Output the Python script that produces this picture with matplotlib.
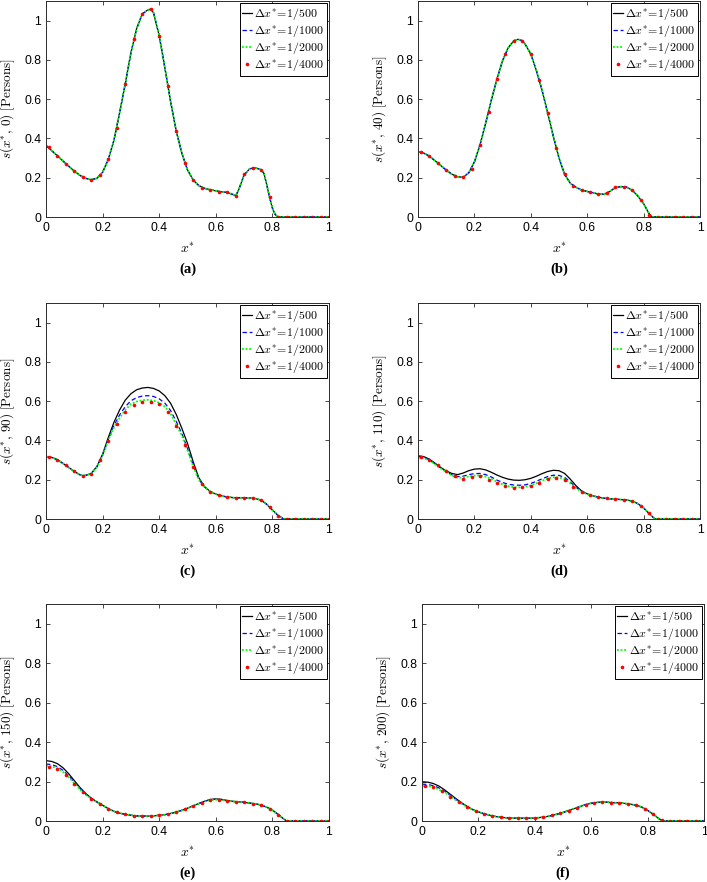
import matplotlib
matplotlib.use('Agg')
import matplotlib.pyplot as plt

plt.rcParams['mathtext.fontset'] = 'cm'
plt.rcParams['font.family'] = ['Liberation Sans', 'DejaVu Sans']

# ---------------- data ----------------
MX = [0.01, 0.04, 0.07, 0.10, 0.13, 0.16, 0.19, 0.22, 0.25, 0.28, 0.31, 0.34,
      0.37, 0.40, 0.43, 0.46, 0.49, 0.52, 0.55, 0.58, 0.61, 0.64, 0.67, 0.70,
      0.73, 0.76, 0.79, 0.82, 0.85, 0.88, 0.91, 0.94, 0.97, 1.00]

# panel (a)  t = 0
XA = [0.00, 0.02, 0.04, 0.06, 0.08, 0.10, 0.12, 0.14, 0.16, 0.18, 0.20, 0.22,
      0.24, 0.26, 0.28, 0.30, 0.32, 0.34, 0.36, 0.37, 0.38, 0.40, 0.42, 0.44,
      0.46, 0.48, 0.50, 0.52, 0.54, 0.56, 0.58, 0.60, 0.62, 0.64, 0.66, 0.67,
      0.68, 0.70, 0.72, 0.74, 0.76, 0.77, 0.78, 0.79, 0.80, 0.81, 0.82, 0.90, 1.00]
A_500 = [0.365, 0.338, 0.312, 0.285, 0.259, 0.234, 0.212, 0.197, 0.190, 0.197, 0.228, 0.293,
         0.390, 0.530, 0.678, 0.835, 0.958, 1.034, 1.055, 1.058, 1.040, 0.924, 0.760, 0.590,
         0.439, 0.325, 0.240, 0.188, 0.160, 0.146, 0.139, 0.133, 0.128, 0.125, 0.115, 0.108,
         0.135, 0.214, 0.246, 0.250, 0.241, 0.222, 0.165, 0.100, 0.045, 0.012, 0.000, 0.000, 0.000]
A_1000 = A_500
A_2000 = A_500
A_4000 = [0.354, 0.312, 0.271, 0.234, 0.203, 0.190, 0.212, 0.293, 0.454, 0.678, 0.907, 1.034,
          1.058, 0.924, 0.668, 0.439, 0.275, 0.188, 0.149, 0.139, 0.129, 0.125, 0.108, 0.217,
          0.249, 0.241, 0.100, 0.000, 0.0, 0.0, 0.0, 0.0, 0.0, 0.0]

# panel (b)  t = 40
XB = [0.00, 0.02, 0.04, 0.06, 0.08, 0.10, 0.12, 0.14, 0.16, 0.18, 0.20, 0.22,
      0.24, 0.26, 0.28, 0.30, 0.32, 0.34, 0.355, 0.37, 0.38, 0.40, 0.42, 0.44,
      0.46, 0.48, 0.50, 0.52, 0.54, 0.56, 0.58, 0.60, 0.62, 0.64, 0.66, 0.68,
      0.70, 0.72, 0.74, 0.76, 0.78, 0.80, 0.82, 0.83, 1.00]
B_500 = [0.333, 0.326, 0.310, 0.287, 0.263, 0.239, 0.218, 0.205, 0.202, 0.225, 0.280, 0.368,
         0.478, 0.595, 0.703, 0.797, 0.862, 0.898, 0.905, 0.898, 0.880, 0.830, 0.745, 0.645,
         0.529, 0.410, 0.300, 0.217, 0.172, 0.152, 0.137, 0.130, 0.124, 0.116, 0.116, 0.130,
         0.150, 0.155, 0.152, 0.136, 0.106, 0.068, 0.015, 0.000, 0.000]
B_1000 = B_500
B_2000 = B_500
B_4000 = [0.332, 0.310, 0.275, 0.239, 0.210, 0.203, 0.246, 0.368, 0.537, 0.703, 0.830, 0.898,
          0.898, 0.830, 0.698, 0.529, 0.349, 0.217, 0.159, 0.137, 0.127, 0.115, 0.120, 0.151,
          0.154, 0.136, 0.088, 0.012, 0.0, 0.0, 0.0, 0.0, 0.0, 0.0]

# panel (c)  t = 90
XC = [0.00, 0.02, 0.04, 0.06, 0.08, 0.10, 0.12, 0.13, 0.14, 0.16, 0.18, 0.20,
      0.22, 0.24, 0.26, 0.28, 0.30, 0.32, 0.34, 0.36, 0.38, 0.40, 0.42, 0.44,
      0.46, 0.48, 0.50, 0.52, 0.54, 0.56, 0.58, 0.60, 0.62, 0.64, 0.66, 0.68,
      0.70, 0.72, 0.74, 0.76, 0.78, 0.80, 0.82, 0.84, 1.00]
C_500 = [0.318, 0.314, 0.302, 0.283, 0.263, 0.242, 0.225, 0.221, 0.222, 0.232, 0.268, 0.330,
         0.415, 0.492, 0.555, 0.605, 0.638, 0.658, 0.667, 0.670, 0.665, 0.652, 0.628, 0.590,
         0.533, 0.462, 0.385, 0.292, 0.210, 0.165, 0.140, 0.127, 0.118, 0.112, 0.109, 0.108,
         0.108, 0.107, 0.104, 0.096, 0.075, 0.046, 0.018, 0.000, 0.000]
C_1000 = [0.318, 0.314, 0.302, 0.283, 0.263, 0.242, 0.225, 0.221, 0.222, 0.232, 0.266, 0.325,
          0.405, 0.475, 0.530, 0.572, 0.602, 0.618, 0.626, 0.628, 0.624, 0.612, 0.590, 0.553,
          0.497, 0.435, 0.360, 0.275, 0.202, 0.163, 0.140, 0.127, 0.118, 0.112, 0.109, 0.108,
          0.108, 0.107, 0.104, 0.096, 0.075, 0.046, 0.018, 0.000, 0.000]
C_2000 = [0.318, 0.314, 0.302, 0.283, 0.263, 0.242, 0.225, 0.221, 0.222, 0.232, 0.265, 0.322,
          0.400, 0.465, 0.515, 0.555, 0.585, 0.598, 0.605, 0.607, 0.603, 0.592, 0.572, 0.537,
          0.482, 0.425, 0.350, 0.268, 0.200, 0.163, 0.140, 0.127, 0.118, 0.112, 0.109, 0.108,
          0.108, 0.107, 0.104, 0.096, 0.075, 0.046, 0.018, 0.000, 0.000]
C_4000 = [0.315, 0.302, 0.273, 0.242, 0.220, 0.231, 0.298, 0.395, 0.486, 0.547, 0.581, 0.595,
          0.595, 0.585, 0.547, 0.473, 0.378, 0.263, 0.178, 0.139, 0.122, 0.112, 0.108, 0.108,
          0.105, 0.095, 0.059, 0.017, 0.0, 0.0, 0.0, 0.0, 0.0, 0.0]

# panel (d)  t = 110
XD = [0.00, 0.02, 0.04, 0.06, 0.08, 0.10, 0.12, 0.14, 0.16, 0.18, 0.20, 0.22,
      0.24, 0.26, 0.28, 0.30, 0.32, 0.34, 0.36, 0.38, 0.40, 0.42, 0.44, 0.46,
      0.48, 0.50, 0.52, 0.54, 0.56, 0.58, 0.60, 0.62, 0.64, 0.66, 0.68, 0.70,
      0.72, 0.74, 0.76, 0.78, 0.80, 0.82, 0.84, 1.00]
D_500 = [0.322, 0.318, 0.305, 0.285, 0.263, 0.245, 0.232, 0.226, 0.234, 0.246, 0.254, 0.256,
         0.250, 0.238, 0.224, 0.212, 0.203, 0.198, 0.197, 0.200, 0.207, 0.218, 0.231, 0.242,
         0.248, 0.246, 0.232, 0.203, 0.170, 0.143, 0.128, 0.118, 0.111, 0.106, 0.103, 0.101,
         0.099, 0.097, 0.091, 0.078, 0.056, 0.027, 0.000, 0.000]
D_1000 = [0.318, 0.315, 0.302, 0.282, 0.260, 0.242, 0.225, 0.216, 0.218, 0.226, 0.231, 0.232,
          0.226, 0.214, 0.198, 0.186, 0.177, 0.173, 0.172, 0.174, 0.181, 0.192, 0.205, 0.216,
          0.223, 0.222, 0.212, 0.188, 0.162, 0.140, 0.127, 0.118, 0.111, 0.106, 0.103, 0.101,
          0.099, 0.097, 0.091, 0.078, 0.056, 0.027, 0.000, 0.000]
D_2000 = [0.312, 0.309, 0.298, 0.279, 0.258, 0.240, 0.221, 0.210, 0.211, 0.217, 0.221, 0.222,
          0.216, 0.204, 0.189, 0.176, 0.167, 0.162, 0.161, 0.164, 0.171, 0.182, 0.195, 0.206,
          0.213, 0.212, 0.203, 0.182, 0.158, 0.138, 0.126, 0.118, 0.111, 0.106, 0.103, 0.101,
          0.099, 0.097, 0.091, 0.078, 0.056, 0.027, 0.000, 0.000]
D_4000 = [0.314, 0.300, 0.273, 0.242, 0.217, 0.205, 0.212, 0.217, 0.200, 0.185, 0.166, 0.158,
          0.161, 0.168, 0.185, 0.203, 0.208, 0.197, 0.161, 0.136, 0.124, 0.112, 0.105, 0.100,
          0.098, 0.090, 0.068, 0.030, 0.0, 0.0, 0.0, 0.0, 0.0, 0.0]

# panel (e)  t = 150
XE = [0.00, 0.02, 0.04, 0.06, 0.08, 0.10, 0.12, 0.14, 0.16, 0.18, 0.20, 0.22,
      0.24, 0.26, 0.28, 0.30, 0.32, 0.34, 0.36, 0.38, 0.40, 0.42, 0.44, 0.46,
      0.48, 0.50, 0.52, 0.54, 0.56, 0.58, 0.60, 0.62, 0.64, 0.66, 0.68, 0.70,
      0.72, 0.74, 0.76, 0.78, 0.80, 0.82, 0.84, 0.85, 1.00]
E_500 = [0.306, 0.302, 0.291, 0.270, 0.240, 0.205, 0.170, 0.140, 0.116, 0.097, 0.080, 0.063,
         0.049, 0.040, 0.034, 0.029, 0.026, 0.025, 0.025, 0.026, 0.029, 0.032, 0.038, 0.045,
         0.054, 0.065, 0.077, 0.089, 0.100, 0.109, 0.112, 0.110, 0.104, 0.100, 0.097, 0.095,
         0.091, 0.087, 0.081, 0.070, 0.055, 0.034, 0.010, 0.000, 0.000]
E_1000 = [0.289, 0.286, 0.276, 0.257, 0.230, 0.198, 0.165, 0.136, 0.114, 0.096, 0.080, 0.063,
          0.049, 0.040, 0.034, 0.029, 0.026, 0.025, 0.025, 0.026, 0.029, 0.032, 0.038, 0.045,
          0.054, 0.065, 0.076, 0.088, 0.099, 0.108, 0.110, 0.108, 0.103, 0.099, 0.097, 0.095,
          0.091, 0.087, 0.081, 0.070, 0.055, 0.034, 0.010, 0.000, 0.000]
E_2000 = [0.280, 0.277, 0.267, 0.249, 0.223, 0.192, 0.160, 0.133, 0.113, 0.095, 0.080, 0.063,
          0.049, 0.040, 0.034, 0.029, 0.026, 0.025, 0.025, 0.026, 0.029, 0.032, 0.038, 0.045,
          0.054, 0.065, 0.076, 0.088, 0.098, 0.106, 0.108, 0.107, 0.102, 0.099, 0.097, 0.095,
          0.091, 0.087, 0.081, 0.070, 0.055, 0.034, 0.010, 0.000, 0.000]
E_4000 = [0.275, 0.263, 0.231, 0.190, 0.146, 0.114, 0.087, 0.059, 0.044, 0.034, 0.027, 0.025,
          0.025, 0.029, 0.034, 0.044, 0.059, 0.075, 0.092, 0.105, 0.107, 0.102, 0.097, 0.095,
          0.088, 0.080, 0.061, 0.032, 0.0, 0.0, 0.0, 0.0, 0.0, 0.0]

# panel (f)  t = 200
XF = [0.00, 0.02, 0.04, 0.06, 0.08, 0.10, 0.12, 0.14, 0.16, 0.18, 0.20, 0.22,
      0.24, 0.26, 0.28, 0.30, 0.32, 0.34, 0.36, 0.38, 0.40, 0.42, 0.44, 0.46,
      0.48, 0.50, 0.52, 0.54, 0.56, 0.58, 0.60, 0.62, 0.64, 0.66, 0.68, 0.70,
      0.72, 0.74, 0.76, 0.78, 0.80, 0.82, 0.84, 0.85, 0.86, 1.00]
F_500 = [0.199, 0.197, 0.190, 0.177, 0.158, 0.136, 0.114, 0.093, 0.074, 0.058, 0.046, 0.037,
         0.029, 0.023, 0.019, 0.016, 0.015, 0.014, 0.014, 0.014, 0.015, 0.018, 0.022, 0.028,
         0.035, 0.043, 0.053, 0.063, 0.073, 0.083, 0.090, 0.094, 0.096, 0.095, 0.093, 0.092,
         0.089, 0.085, 0.080, 0.070, 0.054, 0.034, 0.012, 0.003, 0.000, 0.000]
F_1000 = [0.187, 0.185, 0.179, 0.168, 0.151, 0.131, 0.110, 0.090, 0.073, 0.057, 0.046, 0.037,
          0.029, 0.023, 0.019, 0.016, 0.015, 0.014, 0.014, 0.014, 0.015, 0.018, 0.022, 0.028,
          0.035, 0.043, 0.053, 0.063, 0.073, 0.083, 0.090, 0.094, 0.096, 0.095, 0.093, 0.092,
          0.089, 0.085, 0.080, 0.070, 0.054, 0.034, 0.012, 0.003, 0.000, 0.000]
F_2000 = [0.179, 0.178, 0.172, 0.160, 0.145, 0.127, 0.106, 0.088, 0.071, 0.057, 0.046, 0.037,
          0.029, 0.023, 0.019, 0.016, 0.015, 0.014, 0.014, 0.014, 0.015, 0.018, 0.022, 0.028,
          0.035, 0.043, 0.053, 0.063, 0.073, 0.083, 0.090, 0.094, 0.096, 0.095, 0.093, 0.092,
          0.089, 0.085, 0.080, 0.070, 0.054, 0.034, 0.012, 0.003, 0.000, 0.000]
F_4000 = [0.177, 0.170, 0.151, 0.124, 0.095, 0.071, 0.051, 0.037, 0.025, 0.019, 0.015, 0.014,
          0.014, 0.015, 0.020, 0.029, 0.039, 0.053, 0.068, 0.083, 0.092, 0.095, 0.093, 0.092,
          0.087, 0.080, 0.063, 0.034, 0.003, 0.0, 0.0, 0.0, 0.0, 0.0]

TIMES = ['0', '40', '90', '110', '150', '200']
TAGS = ['(a)', '(b)', '(c)', '(d)', '(e)', '(f)']
STEP_LABELS = ['1/500', '1/1000', '1/2000', '1/4000']
TICKS = [0, 0.2, 0.4, 0.6, 0.8, 1.0]
TICK_LABELS = ['0', '0.2', '0.4', '0.6', '0.8', '1']

PANEL_DATA = [
    (XA, A_500, A_1000, A_2000, A_4000),
    (XB, B_500, B_1000, B_2000, B_4000),
    (XC, C_500, C_1000, C_2000, C_4000),
    (XD, D_500, D_1000, D_2000, D_4000),
    (XE, E_500, E_1000, E_2000, E_4000),
    (XF, F_500, F_1000, F_2000, F_4000),
]

# ---------------- layout ----------------
W, H = 707, 882
RECTS = [(46, 1, 329, 217), (418, 1, 700, 217),
         (46, 303, 329, 519), (418, 303, 700, 519),
         (46, 604, 329, 821), (422, 604, 704, 821)]

fig = plt.figure(figsize=(W / 100, H / 100), dpi=100)
SPINE = '#2b2b2b'

for i, (x, s1, s2, s3, s4) in enumerate(PANEL_DATA):
    l, t, r, b = RECTS[i]
    ax = fig.add_axes([l / W, 1 - b / H, (r - l) / W, (b - t) / H])
    h1, = ax.plot(x, s1, color='k', lw=0.9, ls='-')
    h2, = ax.plot(x, s2, color='b', lw=0.9, ls=(0, (3.5, 2.2)))
    h3, = ax.plot(x, s3, color=(0, 1, 0), lw=1.3, ls=(0, (1, 1)))
    h4, = ax.plot(MX, s4, ls='none', marker='o', ms=2.6, mew=0, color='r')
    ax.set_xlim(0, 1)
    ax.set_ylim(0, 1.1)
    ax.set_xticks(TICKS)
    ax.set_xticklabels(TICK_LABELS)
    ax.set_yticks(TICKS)
    ax.set_yticklabels(TICK_LABELS)
    ax.tick_params(direction='in', top=True, right=True, length=3, width=0.6,
                   labelsize=8.8, pad=3.5, color=SPINE)
    for sp in ax.spines.values():
        sp.set_color(SPINE)
        sp.set_linewidth(0.7)
    labels = [r'$\Delta x^{*}\!=\!%s$' % s for s in STEP_LABELS]
    leg = ax.legend([h1, h2, h3, h4], labels, loc='upper right', borderaxespad=0.2,
                    fancybox=False, edgecolor='k', framealpha=1, fontsize=8.6,
                    handlelength=0.85, handletextpad=0.2, labelspacing=0.1,
                    borderpad=0.2, numpoints=1)
    leg.get_frame().set_linewidth(0.7)
    ax.text(-0.135, 0.5, r'$s(x^{*},\,%s)\ \mathrm{[Persons]}$' % TIMES[i],
            transform=ax.transAxes, rotation=90, ha='center', va='center', fontsize=9.5)
    ax.text(0.5, -0.148, r'$x^{*}$', transform=ax.transAxes, ha='center', va='center',
            fontsize=10)
    ax.text(0.5, -0.243, TAGS[i], transform=ax.transAxes, ha='center', va='center',
            fontsize=10.5, fontweight='bold', family='Liberation Serif')

fig.savefig('out.png', dpi=100)
